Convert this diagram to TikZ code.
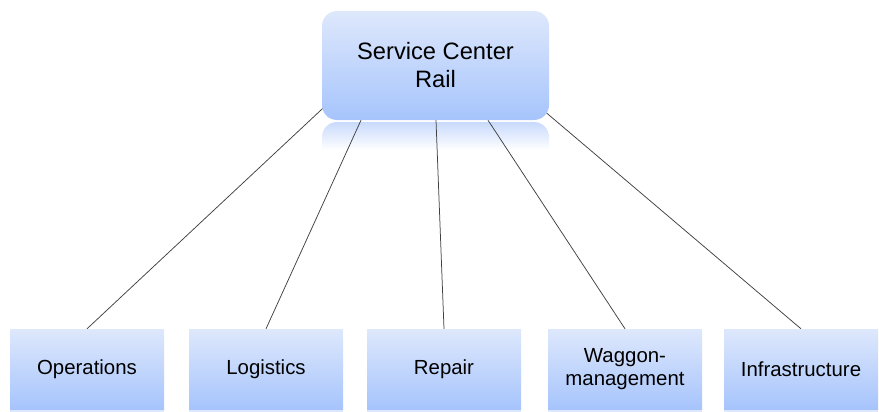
\documentclass[tikz,border=0pt]{standalone}
\usepackage{fontspec}
\setmainfont{Liberation Sans}
\usetikzlibrary{backgrounds}

\definecolor{boxtop}{RGB}{222,232,252}
\definecolor{boxbottom}{RGB}{166,196,252}
\definecolor{mirror}{RGB}{200,218,252}
\definecolor{linegray}{RGB}{64,64,64}

\tikzset{
	centerbox/.style={rounded corners=15pt, top color=boxtop, bottom color=boxbottom, inner sep=0pt,
		minimum width=227pt, minimum height=109pt, align=center, font=\fontsize{23.7}{28}\selectfont},
	unitbox/.style={top color=boxtop, bottom color=boxbottom, inner sep=0pt,
		minimum width=154pt, minimum height=80pt, align=center, font=\fontsize{20.4}{23}\selectfont},
	branch/.style={linegray, line width=0.75pt}
}

\begin{document}
\begin{tikzpicture}[x=1pt, y=-1pt]
	\useasboundingbox (0,0) rectangle (879,412);

	%% Zentrale
	\node[centerbox] (center) at (435.5,65.5) {Service Center\\Rail};

	%% Bereiche
	\node[unitbox] (ops) at (87,369) {Operations};
	\node[unitbox] (log) at (266,369) {Logistics};
	\node[unitbox] (rep) at (444,369) {Repair};
	\node[unitbox] (wag) at (625,369) {Waggon-\\management};
	\node[unitbox] (inf) at (801,369) {Infrastructure};

	\begin{pgfonlayer}{background}
		%% Spiegelung
		\shade[top color=mirror, bottom color=white] (322,150) [rounded corners=15pt] -- (322,122) -- (549,122) [sharp corners] -- (549,150) -- cycle;
		\foreach \b in {ops,log,rep,wag,inf}
			\fill[boxtop] ([yshift=-1pt]\b.south west) rectangle ([yshift=-3pt]\b.south east);

		%% Verbindungen
		\draw[branch] ([xshift=-104pt, yshift=20pt]center.south) -- (ops.north);
		\draw[branch] ([xshift=-74.5pt]center.south) -- (log.north);
		\draw[branch] ([xshift=0.5pt]center.south) -- (rep.north);
		\draw[branch] ([xshift=52.5pt]center.south) -- (wag.north);
		\draw[branch] ([xshift=96pt, yshift=20pt]center.south) -- (inf.north);
	\end{pgfonlayer}
\end{tikzpicture}
\end{document}
